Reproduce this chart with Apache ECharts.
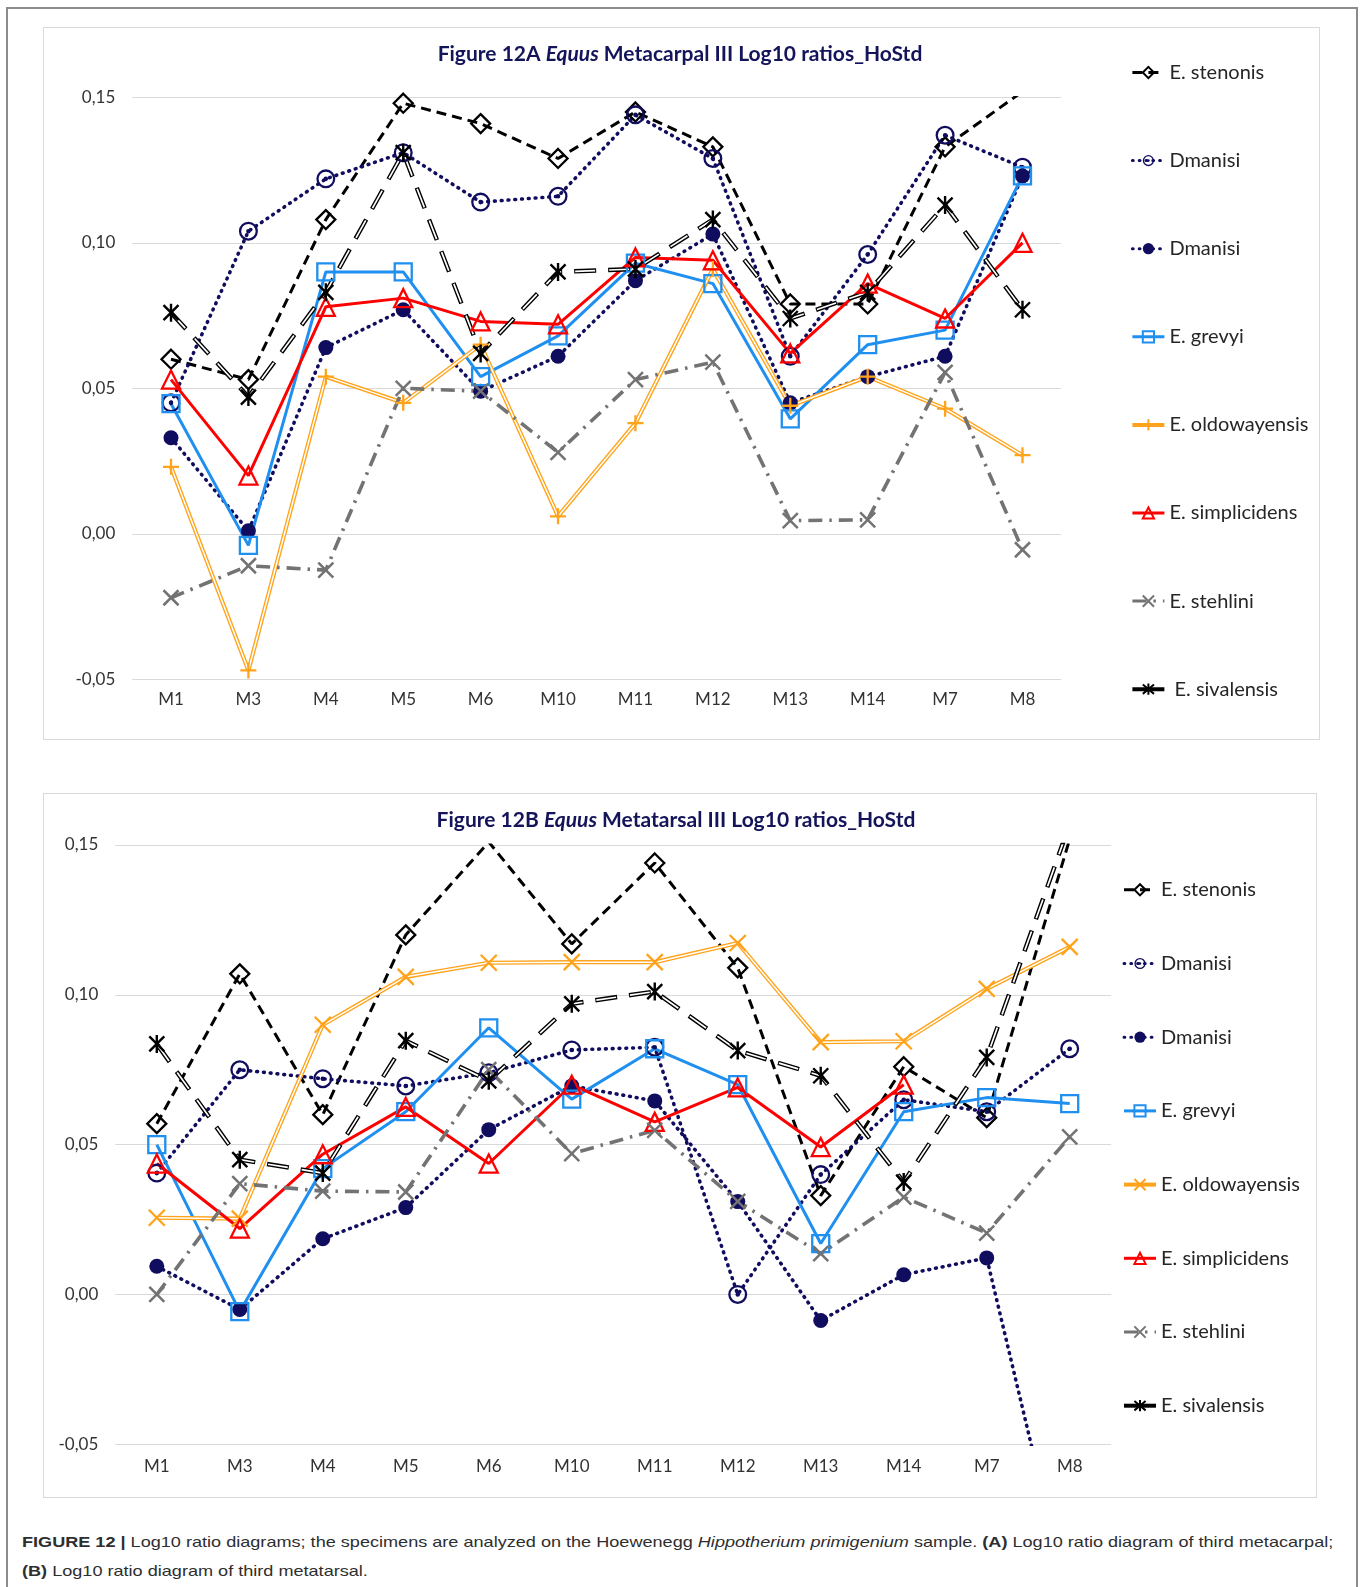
<!DOCTYPE html>
<html>
<head>
<meta charset="utf-8">
<script src="https://cdn.jsdelivr.net/npm/echarts@6/dist/echarts.min.js"></script>
<style>
body{margin:0;background:#fff;width:1360px;height:1587px;overflow:hidden;position:relative}
#frame{position:absolute;left:6px;top:7px;width:1352px;height:1620px;border:2px solid #8c8c8c;box-sizing:border-box}
.box{position:absolute;border:1px solid #d9d9d9;box-sizing:border-box;background:#fff}
#boxA{left:43px;top:27px;width:1277px;height:713px}
#boxB{left:43px;top:793px;width:1274px;height:705px}
.chart{position:absolute;left:0;top:0;right:0;bottom:0}
#caption{position:absolute;left:22px;top:1528px;font-family:"Liberation Sans",Arial,sans-serif;font-size:15px;color:#2e2e2e;line-height:28.5px;transform:scaleX(1.206);transform-origin:0 0;white-space:nowrap}
</style>
</head>
<body>
<div id="frame"></div>
<div class="box" id="boxA"><div class="chart" id="chartA"></div></div>
<div class="box" id="boxB"><div class="chart" id="chartB"></div></div>
<div id="caption"><b>FIGURE 12 |</b> Log10 ratio diagrams; the specimens are analyzed on the Hoewenegg <i>Hippotherium primigenium</i> sample. <b>(A)</b> Log10 ratio diagram of third metacarpal;<br><b>(B)</b> Log10 ratio diagram of third metatarsal.</div>
<script>
// measurements on the x axis
var cats = ['M1', 'M3', 'M4', 'M5', 'M6', 'M10', 'M11', 'M12', 'M13', 'M14', 'M7', 'M8'];
var yTicks = [-0.05, 0, 0.05, 0.10, 0.15];

// Figure 12A metacarpal
var stenonisA = [0.060, 0.053, 0.108, 0.148, 0.141, 0.129, 0.145, 0.133, 0.079, 0.079, 0.133, 0.152];
var dmOpenA   = [0.045, 0.104, 0.122, 0.131, 0.114, 0.116, 0.144, 0.129, 0.061, 0.096, 0.137, 0.126];
var dmFillA   = [0.033, 0.001, 0.064, 0.077, 0.049, 0.061, 0.087, 0.103, 0.045, 0.054, 0.061, 0.123];
var grevyiA   = [0.0447, -0.004, 0.090, 0.090, 0.054, 0.068, 0.093, 0.086, 0.0395, 0.065, 0.070, 0.123];
var oldowA    = [0.023, -0.047, 0.054, 0.045, 0.065, 0.006, 0.038, 0.091, 0.044, 0.054, 0.043, 0.027];
var simpA     = [0.053, 0.020, 0.078, 0.081, 0.073, 0.072, 0.095, 0.094, 0.062, 0.086, 0.074, 0.100];
var stehA     = [-0.022, -0.011, -0.0125, 0.050, 0.049, 0.028, 0.053, 0.059, 0.0045, 0.0048, 0.0555, -0.0055];
var sivA      = [0.076, 0.047, 0.083, 0.131, 0.062, 0.090, 0.091, 0.108, 0.074, 0.083, 0.113, 0.077];

// Figure 12B metatarsal
var stenonisB = [0.057, 0.107, 0.060, 0.120, 0.151, 0.117, 0.144, 0.109, 0.033, 0.076, 0.059, 0.152];
var dmOpenB   = [0.0405, 0.075, 0.072, 0.0696, 0.074, 0.0816, 0.0825, 0.000, 0.040, 0.065, 0.061, 0.082];
var dmFillB   = [0.0094, -0.005, 0.0186, 0.029, 0.055, 0.0696, 0.0646, 0.031, -0.0087, 0.0066, 0.0122, -0.104];
var grevyiB   = [0.050, -0.0057, 0.042, 0.061, 0.089, 0.0652, 0.082, 0.070, 0.017, 0.061, 0.0657, 0.0637];
var oldowB    = [0.0256, 0.0253, 0.090, 0.106, 0.1107, 0.1109, 0.1109, 0.1173, 0.0842, 0.0845, 0.102, 0.116];
var simpB     = [0.0437, 0.022, 0.0468, 0.0626, 0.0437, 0.070, 0.0576, 0.0691, 0.0492, 0.0700, null, null];
var stehB     = [0.000, 0.037, 0.0345, 0.0342, 0.075, 0.047, 0.0548, 0.0311, 0.0136, 0.0325, 0.0205, 0.0526];
var sivB      = [0.0836, 0.045, 0.0405, 0.0847, 0.0713, 0.097, 0.1011, 0.0814, 0.073, 0.0375, 0.0791, 0.157];

var BLACK = '#000000', NAVY = '#110d5e', BLUE = '#1f8ff0', ORANGE = '#ffa31a',
    RED = '#ff0000', GRAY = '#737373', CLEAR = 'rgba(0,0,0,0)';

var DIAMOND = 'path://M0,-10L10,0L0,10L-10,0Z';
var RING = 'path://M0,-10A10,10,0,1,1,0,10A10,10,0,1,1,0,-10Z' +
           'M0,-7.6A7.6,7.6,0,1,0,0,7.6A7.6,7.6,0,1,0,0,-7.6Z' +
           'M0,-2.4A2.4,2.4,0,1,1,0,2.4A2.4,2.4,0,1,1,0,-2.4Z';
var PLUS = 'path://M0,-10L0,10M-10,0L10,0';
var CROSS = 'path://M-10,-10L10,10M-10,10L10,-10';
var STAR = 'path://M-10,-10L10,10M-10,10L10,-10M0,-12L0,12';

function line(name, data, o) {
  var s = {
    type: 'line', name: name, data: data, symbolKeepAspect: true, showAllSymbol: true,
    silent: true, animation: false, emphasis: {disabled: true}
  };
  for (var k in o) s[k] = o[k];
  return s;
}

function buildSeries(v, oldSym, sivName) {
  return [
    line('E. stenonis', v[0], {symbol: DIAMOND, symbolSize: 19,
      lineStyle: {color: BLACK, width: 3, type: [10, 6]},
      itemStyle: {color: CLEAR, borderColor: BLACK, borderWidth: 2.3}}),
    line('Dmanisi', v[1], {symbol: RING, symbolSize: 19,
      lineStyle: {color: NAVY, width: 3.6, type: [0.8, 6], cap: 'round'},
      itemStyle: {color: NAVY, borderWidth: 0}}),
    line('Dmanisi ', v[2], {symbol: 'circle', symbolSize: 15,
      lineStyle: {color: NAVY, width: 3.6, type: [0.8, 6], cap: 'round'},
      itemStyle: {color: NAVY, borderWidth: 0}}),
    line('E. grevyi', v[3], {symbol: 'rect', symbolSize: 17,
      lineStyle: {color: BLUE, width: 3},
      itemStyle: {color: CLEAR, borderColor: BLUE, borderWidth: 2.3}}),
    // compound (double) line of E. oldowayensis
    line('oldOuter', v[4], {symbol: 'none', lineStyle: {color: ORANGE, width: 4.2}}),
    line('oldInner', v[4], {symbol: 'none', lineStyle: {color: '#ffffff', width: 1.5}}),
    line('E. oldowayensis', v[4], {symbol: oldSym, symbolSize: 16,
      lineStyle: {width: 0},
      itemStyle: {color: CLEAR, borderColor: ORANGE, borderWidth: 2.3}}),
    line('E. simplicidens', v[5], {symbol: 'triangle', symbolSize: 18,
      lineStyle: {color: RED, width: 3},
      itemStyle: {color: CLEAR, borderColor: RED, borderWidth: 2.3}}),
    line('E. stehlini', v[6], {symbol: CROSS, symbolSize: 15,
      lineStyle: {color: GRAY, width: 3.6, type: [14, 7, 2.5, 7]},
      itemStyle: {color: CLEAR, borderColor: GRAY, borderWidth: 2.5}}),
    // compound long dash of E. sivalensis
    line('sivOuter', v[7], {symbol: 'none', lineStyle: {color: BLACK, width: 4.5, type: [22, 12]}}),
    line('sivInner', v[7], {symbol: 'none', lineStyle: {color: '#ffffff', width: 1.7, type: [20, 14], dashOffset: -1}}),
    line(sivName, v[7], {symbol: STAR, symbolSize: 18,
      lineStyle: {width: 0},
      itemStyle: {color: CLEAR, borderColor: BLACK, borderWidth: 2.4}})
  ];
}

function legendCfg(sivName, left, top, gap) {
  return {
    orient: 'vertical', left: left, top: top, padding: 0, itemGap: gap,
    itemWidth: 32, itemHeight: 14, selectedMode: false,
    lineStyle: {width: 3},
    textStyle: {fontFamily: 'Lato', fontSize: 20, color: '#262626', lineHeight: 20},
    data: ['E. stenonis', 'Dmanisi', 'Dmanisi ', 'E. grevyi',
      {name: 'E. oldowayensis', lineStyle: {color: ORANGE, width: 4, type: 'solid', opacity: 1}},
      'E. simplicidens', 'E. stehlini',
      {name: sivName, lineStyle: {color: BLACK, width: 4, type: 'solid', opacity: 1}}]
  };
}

function fmt(v) {
  if (Math.abs(v) < 1e-9) v = 0;
  return v.toFixed(2).replace('.', ',');
}

function axes(labelMargin) {
  return {
    xAxis: {type: 'category', data: cats, boundaryGap: true,
      axisLine: {show: false}, axisTick: {show: false},
      axisLabel: {fontFamily: 'Lato', fontSize: 17, color: '#333333', margin: labelMargin}},
    yAxis: {type: 'value', min: yTicks[0], max: yTicks[yTicks.length - 1], interval: yTicks[1] - yTicks[0],
      axisLine: {show: false}, axisTick: {show: false},
      axisLabel: {fontFamily: 'Lato', fontSize: 17, color: '#333333', margin: 17, formatter: fmt},
      splitLine: {lineStyle: {color: '#d9d9d9', width: 1}}}
  };
}

function title(pre, post, x, y) {
  return {
    type: 'text', x: x, y: y, silent: true,
    style: {
      text: '{b|' + pre + '}{i|Equus}{b|' + post + '}',
      align: 'center', verticalAlign: 'middle',
      rich: {
        b: {fontFamily: 'Lato', fontSize: 21, fontWeight: 'bold', fill: '#14145a'},
        i: {fontFamily: 'Lato', fontSize: 21, fontWeight: 'bold', fontStyle: 'italic', fill: '#14145a'}
      }
    }
  };
}

var axA = axes(12);
var chartA = echarts.init(document.getElementById('chartA'));
chartA.setOption({
  animation: false,
  grid: {left: 88.3, top: 69.4, width: 928.9, height: 581.8},
  xAxis: axA.xAxis,
  yAxis: axA.yAxis,
  legend: legendCfg(' E. sivalensis', 1086.4, 34.5, 68.1),
  graphic: [title('Figure 12A ', ' Metacarpal III Log10 ratios_HoStd', 636, 25.8)],
  series: buildSeries([stenonisA, dmOpenA, dmFillA, grevyiA, oldowA, simpA, stehA, sivA], PLUS, ' E. sivalensis')
});

var axB = axes(13.5);
var chartB = echarts.init(document.getElementById('chartB'));
chartB.setOption({
  animation: false,
  grid: {left: 71.3, top: 51, width: 995.9, height: 599.3},
  xAxis: axB.xAxis,
  yAxis: axB.yAxis,
  legend: legendCfg('E. sivalensis', 1078, 85.8, 53.7),
  graphic: [title('Figure 12B ', ' Metatarsal III Log10 ratios_HoStd', 632, 25.8)],
  series: buildSeries([stenonisB, dmOpenB, dmFillB, grevyiB, oldowB, simpB, stehB, sivB], CROSS, 'E. sivalensis')
});
</script>
</body>
</html>
